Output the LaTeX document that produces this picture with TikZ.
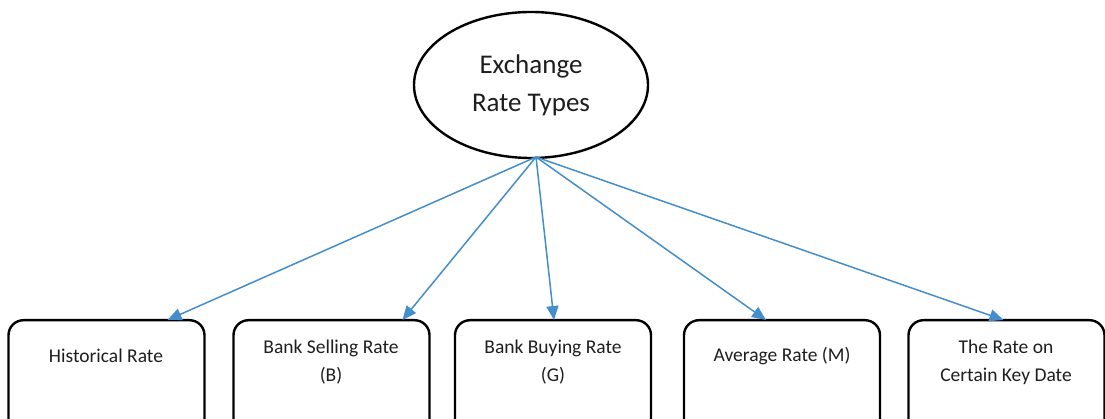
\documentclass[tikz,border=0pt]{standalone}
\usepackage{fontspec}
\setmainfont{Carlito}
\usetikzlibrary{shapes.geometric,arrows.meta}
\definecolor{linkblue}{RGB}{68,142,203}
\definecolor{inkgrey}{RGB}{30,30,30}
\tikzset{
  topic/.style={ellipse, draw=black, line width=2.4pt, minimum width=234pt, minimum height=146pt,
    inner sep=0pt, align=center, font=\fontsize{27}{38}\selectfont, text=inkgrey},
  ratebox/.style={draw=black, line width=2.4pt, rounded corners=15pt, minimum width=196pt,
    minimum height=122pt, inner sep=0pt, anchor=north, text=inkgrey},
  boxlabel/.style={align=center, font=\fontsize{19.5}{28}\selectfont, text=inkgrey},
  link/.style={draw=linkblue, line width=1.5pt, -{Triangle[length=14pt,width=12pt]}}
}
\begin{document}
\begin{tikzpicture}[x=1pt,y=-1pt]
  \useasboundingbox (0,0) rectangle (1105,419);
  \clip (0,0) rectangle (1105,419);

  % central topic
  \node[topic] (e) at (531,85) {Exchange\\Rate Types};
  \coordinate (hub) at (536,157);

  % category boxes
  \node[ratebox] (b1) at (106.5,319) {};
  \node[ratebox] (b2) at (331.5,319) {};
  \node[ratebox] (b3) at (553,319) {};
  \node[ratebox] (b4) at (782,319) {};
  \node[ratebox] (b5) at (1006.5,319) {};

  % labels inside the boxes
  \node[boxlabel] (t1) at (106,356) {Historical Rate};
  \node[boxlabel] (t2) at (331,362) {Bank Selling Rate\\(B)};
  \node[boxlabel] (t3) at (553,362) {Bank Buying Rate\\(G)};
  \node[boxlabel] (t4) at (782,356) {Average Rate (M)};
  \node[boxlabel] (t5) at (1006,362) {The Rate on\\Certain Key Date};

  % connectors from the topic to each box
  \draw[link] (hub) -- ([xshift=61pt,yshift=-1pt]b1.north);
  \draw[link] (hub) -- ([xshift=71pt,yshift=-1pt]b2.north);
  \draw[link] (hub) -- ([xshift=1pt,yshift=-1pt]b3.north);
  \draw[link] (hub) -- ([xshift=-16pt,yshift=-1pt]b4.north);
  \draw[link] (hub) -- ([xshift=-3pt,yshift=-1pt]b5.north);
\end{tikzpicture}
\end{document}
